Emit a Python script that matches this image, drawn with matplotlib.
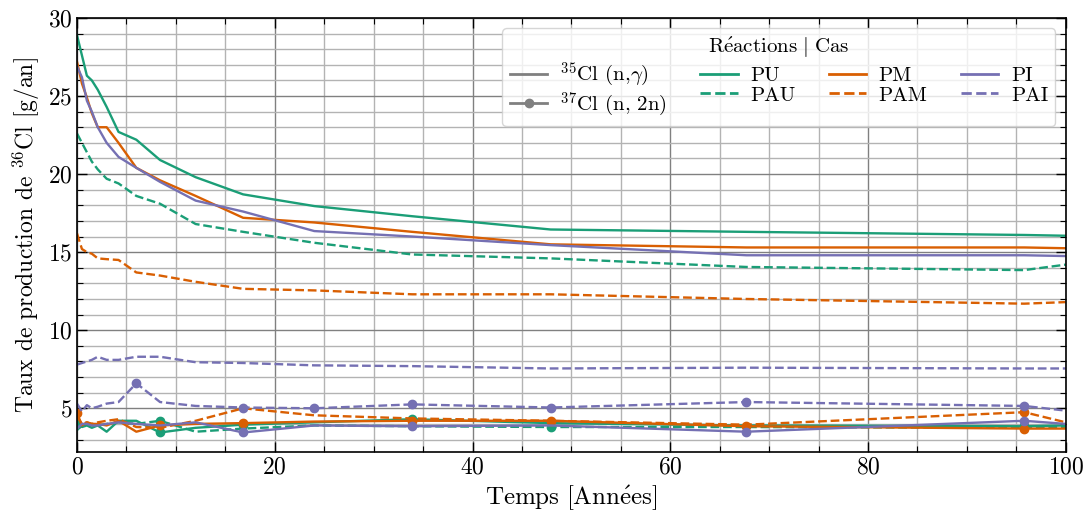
import numpy as np
import matplotlib
matplotlib.use("Agg")
import matplotlib.pyplot as plt
from matplotlib.lines import Line2D
from matplotlib.ticker import MultipleLocator

plt.rcParams['font.family'] = ['cmr10', 'DejaVu Serif']
plt.rcParams['mathtext.fontset'] = 'cm'
plt.rcParams['axes.formatter.use_mathtext'] = True

# --- data ---
t = [0, 0.5, 1, 1.5, 2.1, 3, 4.2, 6, 8.4, 12, 16.8, 24, 33.9, 47.9, 67.7, 95.8, 100]

# (n,gamma) production rates [g/an]
pu_ng = [28.9, 27.6, 26.3, 26.0, 25.4, 24.3, 22.7, 22.2, 20.9, 19.8, 18.7, 17.95, 17.3, 16.45, 16.3, 16.1, 16.05]
pau_ng = [22.6, 22.0, 21.4, 20.8, 20.3, 19.7, 19.4, 18.6, 18.1, 16.8, 16.3, 15.6, 14.85, 14.6, 14.05, 13.85, 14.2]
pm_ng = [27.2, 25.8, 24.9, 23.9, 23.0, 23.0, 22.0, 20.4, 19.6, 18.6, 17.2, 16.9, 16.3, 15.5, 15.3, 15.3, 15.25]
pam_ng = [16.2, 15.2, 15.0, 14.9, 14.6, 14.55, 14.5, 13.7, 13.5, 13.1, 12.65, 12.55, 12.3, 12.3, 12.0, 11.7, 11.8]
pi_ng = [26.9, 26.2, 24.7, 24.0, 23.0, 22.0, 21.1, 20.4, 19.5, 18.3, 17.6, 16.35, 16.0, 15.45, 14.8, 14.8, 14.75]
pai_ng = [7.8, 7.9, 8.0, 8.1, 8.3, 8.1, 8.1, 8.3, 8.3, 7.95, 7.9, 7.75, 7.7, 7.55, 7.6, 7.55, 7.55]

# (n,2n) production rates [g/an]
pu_2n = [4.0, 3.8, 3.9, 3.75, 3.9, 3.5, 4.2, 4.2, 3.45, 3.75, 3.95, 4.1, 4.3, 4.05, 3.9, 3.85, 3.9]
pau_2n = [3.6, 3.9, 4.0, 3.9, 3.9, 4.0, 4.1, 4.0, 4.2, 3.5, 3.7, 3.9, 3.85, 3.8, 3.8, 3.75, 3.8]
pm_2n = [4.7, 3.9, 4.1, 4.0, 4.0, 3.9, 4.2, 3.5, 3.9, 4.0, 4.05, 4.15, 4.2, 4.2, 3.85, 3.7, 3.7]
pam_2n = [4.5, 4.0, 4.1, 4.0, 4.1, 4.2, 4.3, 3.8, 3.75, 4.2, 5.0, 4.55, 4.35, 4.2, 3.95, 4.75, 4.1]
pi_2n = [3.7, 4.0, 4.0, 3.9, 3.9, 4.0, 4.1, 4.0, 3.9, 4.1, 3.45, 3.9, 3.85, 3.9, 3.5, 4.2, 4.0]
pai_2n = [5.3, 4.8, 5.2, 5.0, 5.1, 5.3, 5.4, 6.6, 5.4, 5.15, 5.05, 5.0, 5.25, 5.05, 5.4, 5.15, 4.85]

# indices of t where the (n,2n) curves carry a marker
marks_pu = [0, 8, 10, 12, 15]
marks_pau = [8, 13]
marks_pm = [0, 8, 10, 12, 13, 14, 15]
marks_pam = [15]
marks_pi = [10, 12, 14, 15]
marks_pai = [7, 10, 11, 12, 13, 14, 15]

green, orange, purple = '#1b9e77', '#d95f02', '#7570b3'

cases = [
    ("PU", green, '-', pu_ng, pu_2n, marks_pu),
    ("PAU", green, '--', pau_ng, pau_2n, marks_pau),
    ("PM", orange, '-', pm_ng, pm_2n, marks_pm),
    ("PAM", orange, '--', pam_ng, pam_2n, marks_pam),
    ("PI", purple, '-', pi_ng, pi_2n, marks_pi),
    ("PAI", purple, '--', pai_ng, pai_2n, marks_pai),
]

fig = plt.figure(figsize=(10.92, 5.18), dpi=100)
ax = fig.add_axes([0.0705, 0.1274, 0.9055, 0.838])

for name, col, ls, ng, n2n, mk in cases:
    ax.plot(t, ng, color=col, linestyle=ls, linewidth=1.7)
    ax.plot(t, n2n, color=col, linestyle=ls, linewidth=1.7,
            marker='o', markersize=6, markevery=mk)

ax.set_xlim(0, 100)
ax.set_ylim(2.2, 30)
ax.xaxis.set_major_locator(MultipleLocator(20))
ax.xaxis.set_minor_locator(MultipleLocator(5))
ax.yaxis.set_major_locator(MultipleLocator(5))
ax.yaxis.set_minor_locator(MultipleLocator(1))
ax.tick_params(which='both', direction='in', top=True, right=True, labelsize=17)
ax.tick_params(which='major', length=7, width=1)
ax.tick_params(which='minor', length=4, width=0.8)
ax.grid(True, which='major', color='0.5', linewidth=1)
ax.grid(True, which='minor', color='0.7', linewidth=1)
for s in ax.spines.values():
    s.set_linewidth(1.2)

ax.set_xlabel(r"$\mathrm{Temps\ [Ann\acute{e}es]}$", fontsize=18, labelpad=3)
ax.set_ylabel(r"Taux de production de $^{36}$Cl [g/an]", fontsize=17, labelpad=4)

gray = '#808080'
handles = [
    Line2D([], [], color=gray, lw=2),
    Line2D([], [], color=gray, lw=2, marker='o', markersize=6),
    Line2D([], [], color=green, lw=2),
    Line2D([], [], color=green, lw=2, ls='--'),
    Line2D([], [], color=orange, lw=2),
    Line2D([], [], color=orange, lw=2, ls='--'),
    Line2D([], [], color=purple, lw=2),
    Line2D([], [], color=purple, lw=2, ls='--'),
]
labels = [r"$^{35}$Cl (n,$\gamma$)", r"$^{37}$Cl (n, 2n)", "PU", "PAU", "PM", "PAM", "PI", "PAI"]
ax.legend(handles, labels, ncol=4, loc='upper right',
          title=r"$\mathrm{R\acute{e}actions}\ |\ \mathrm{Cas}$",
          fontsize=15, title_fontsize=15, handlelength=1.8, handletextpad=0.6,
          columnspacing=1.6, labelspacing=0.05, borderpad=0.35,
          framealpha=0.8, fancybox=True)

fig.savefig("out.png", dpi=100)
